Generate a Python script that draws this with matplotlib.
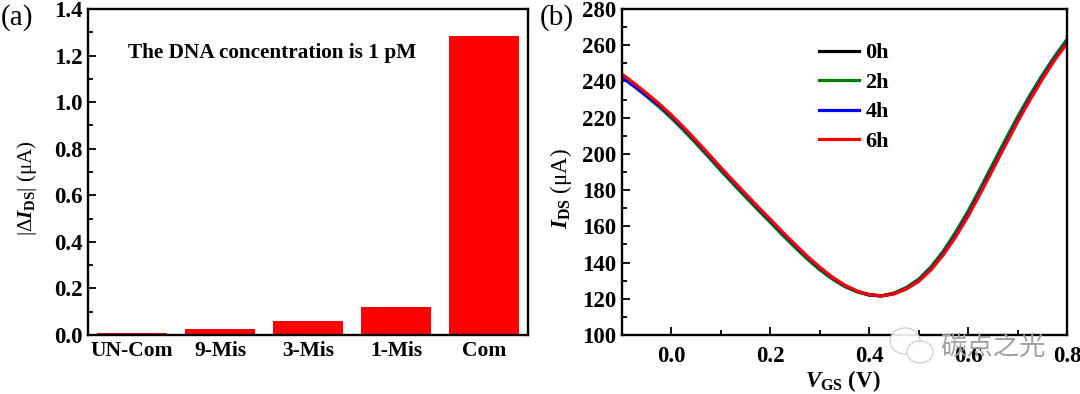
import matplotlib
matplotlib.use("Agg")
import matplotlib.pyplot as plt
from matplotlib.patches import Ellipse

plt.rcParams['font.family'] = ['Liberation Serif', 'Noto Sans CJK SC']
plt.rcParams['font.weight'] = 'bold'
plt.rcParams['mathtext.fontset'] = 'custom'
plt.rcParams['mathtext.rm'] = 'Liberation Serif'
plt.rcParams['mathtext.it'] = 'Liberation Serif:italic:bold'
plt.rcParams['mathtext.bf'] = 'Liberation Serif:bold'

# panel a
samples = ['UN-Com', '9-Mis', '3-Mis', '1-Mis', 'Com']
delta_i = [0.01, 0.024, 0.06, 0.122, 1.285]

# panel b
vgs = [-0.1, -0.075, -0.05, -0.025, 0.0, 0.025, 0.05, 0.075, 0.1, 0.125, 0.15, 0.175, 0.2,
       0.225, 0.25, 0.275, 0.3, 0.325, 0.35, 0.375, 0.4, 0.425, 0.45, 0.475, 0.5, 0.525,
       0.55, 0.575, 0.6, 0.625, 0.65, 0.675, 0.7, 0.725, 0.75, 0.775, 0.8]
ids_0h = [242.5, 237.5, 232, 226.3, 220, 213.2, 206, 198.6, 191, 183.7, 176.5, 169.4, 162.5,
          155.4, 148.7, 142.2, 136.3, 131.2, 127, 124, 122.1, 121.6, 123, 126, 130.5, 137.3,
          146, 156.5, 168, 180.8, 194, 207.2, 220, 232, 243.2, 253.5, 263]
ids_2h = [242.3, 237.2, 231.7, 226, 219.7, 212.9, 205.7, 198.3, 190.7, 183.4, 176.2, 169.1, 162.2,
          155.1, 148.4, 141.9, 136, 131, 126.8, 123.9, 122, 121.6, 123.1, 126.2, 130.8, 137.6,
          146.4, 156.9, 168.4, 181.2, 194.4, 207.6, 220.4, 232.4, 243.5, 253.8, 263.2]
ids_4h = [242.2, 237.3, 232.2, 226.9, 220.8, 214, 206.9, 199.5, 191.9, 184.6, 177.4, 170.3, 163.4,
          156.3, 149.6, 143, 137, 131.8, 127.4, 124.2, 122.2, 121.6, 122.8, 125.6, 129.9, 136.4,
          144.9, 155, 166.4, 179.1, 192.2, 205.4, 218.4, 230.5, 241.9, 252.4, 261.6]
ids_6h = [244, 238.9, 233.4, 227.7, 221.4, 214.6, 207.4, 200, 192.4, 185.1, 177.9, 170.8, 163.9,
          156.8, 150, 143.4, 137.4, 132, 127.6, 124.3, 122.3, 121.6, 122.7, 125.4, 129.6, 136,
          144.3, 154.3, 165.6, 178.3, 191.4, 204.6, 217.6, 229.8, 241.2, 251.8, 261]
hours = ['0h', '2h', '4h', '6h']
colors = ['black', 'green', 'blue', 'red']

W, H = 1080, 394
fig = plt.figure(figsize=(W / 100, H / 100), dpi=100)


def make_axes(left, right, top, bottom):
    ax = fig.add_axes([left / W, 1 - bottom / H, (right - left) / W, (bottom - top) / H])
    for s in ax.spines.values():
        s.set_linewidth(1.7)
    ax.tick_params(which='major', direction='in', length=6, width=1.3, labelsize=16.5, pad=4)
    ax.tick_params(which='minor', direction='in', length=3.5, width=1.3)
    return ax


ax1 = make_axes(88, 528, 9, 335)
ax1.bar(range(5), delta_i, width=0.8, color='red')
ax1.set_xlim(-0.5, 4.5)
ax1.set_ylim(0, 1.4)
ax1.set_xticks(range(5))
ax1.set_xticklabels(samples)
ax1.tick_params(axis='x', length=0, labelsize=15.5, pad=4)
ax1.set_yticks([0, 0.2, 0.4, 0.6, 0.8, 1.0, 1.2, 1.4])
ax1.set_yticks([0.1, 0.3, 0.5, 0.7, 0.9, 1.1, 1.3], minor=True)
ax1.set_ylabel(r'|Δ$\mathit{I}_{\mathbf{DS}}$| (μA)', fontsize=15, y=0.45, labelpad=11)
fig.text(272 / W, 1 - 53 / H, 'The DNA concentration is 1 pM', fontsize=15.3, ha='center', va='center')
fig.text(1 / W, 1 - 18 / H, '(a)', fontsize=21, fontweight='normal', va='center')

ax2 = make_axes(622, 1067, 9, 335)
for series, hour, c in zip([ids_0h, ids_2h, ids_4h, ids_6h], hours, colors):
    ax2.plot(vgs, series, color=c, lw=2.3, label=hour)
ax2.set_xlim(-0.1, 0.8)
ax2.set_ylim(100, 280)
ax2.set_xticks([0.0, 0.2, 0.4, 0.6, 0.8])
ax2.set_xticks([0.1, 0.3, 0.5, 0.7], minor=True)
ax2.set_yticks(range(100, 281, 20))
ax2.set_yticks(range(110, 280, 20), minor=True)
ax2.tick_params(axis='x', pad=8)
ax2.set_xlabel(r'$\mathit{V}_{\mathbf{GS}}$ $\mathbf{(V)}$', fontsize=16.5, x=0.497, labelpad=1)
ax2.set_ylabel(r'$\mathit{I}_{\mathbf{DS}}$ (μA)', fontsize=16.5, y=0.45, labelpad=6)
ax2.legend(loc='upper left', bbox_to_anchor=(0.442, 0.896), frameon=False, fontsize=16,
           handlelength=1.8, labelspacing=0.4, handletextpad=0.3, borderpad=0, borderaxespad=0)
fig.text(540 / W, 1 - 18 / H, '(b)', fontsize=21, fontweight='normal', va='center')

# watermark over the lower right corner
for cx, cy, w, h in [(905, 341, 30, 26), (920, 352, 26, 22)]:
    fig.add_artist(Ellipse((cx / W, 1 - cy / H), w / W, h / H, transform=fig.transFigure,
                           facecolor='white', edgecolor='#cfcfcf', lw=1, alpha=0.9, zorder=5))
fig.text(993 / W, 1 - 348 / H, '碳点之光', fontsize=19, fontweight='normal', color='#a0a0a0',
         ha='center', va='center', zorder=6)

plt.savefig('out.png', dpi=100)
